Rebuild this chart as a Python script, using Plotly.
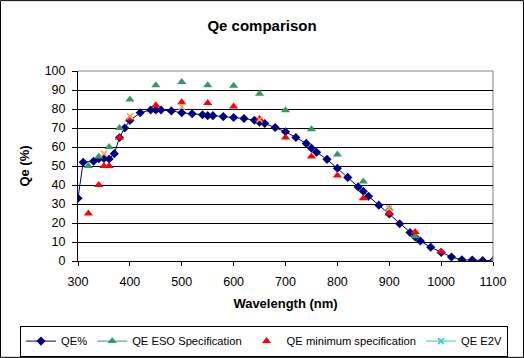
import plotly.graph_objects as go

# QE% measured curve
qe_wl = [300, 310, 330, 340, 350, 360, 370, 380, 390, 400, 420, 440, 450, 460, 480,
         500, 520, 540, 550, 560, 580, 600, 620, 640, 650, 660, 680, 700, 720, 740,
         750, 760, 780, 800, 820, 840, 850, 860, 880, 900, 920, 940, 950, 960, 980,
         1000, 1020, 1040, 1060, 1080, 1100]
qe_val = [33, 52, 52.5, 53.8, 54, 53.7, 56.5, 65, 70, 74, 78, 79.5, 79.5, 79.5, 79,
          78, 77.5, 77, 76.5, 76.5, 76, 75.5, 75, 74.1, 73, 72.4, 70.3, 68, 65, 61.9,
          59.4, 57.2, 53.5, 48.8, 44, 39, 36.7, 34.1, 29.4, 24.8, 19.6, 15, 12.6, 10.5, 7.2,
          4.5, 2.1, 0.6, 0.5, 0.3, 0.1]

# ESO specification
eso_wl = [320, 340, 360, 380, 400, 450, 500, 550, 600, 650, 700, 750, 800, 850, 900, 950, 1100]
eso_val = [50, 55, 60, 70, 85, 92.5, 94.2, 92.5, 92.2, 88, 79.4, 69.4, 56.1, 41.8, 27.5, 13, 0]

# QE minimum specification
min_wl = [320, 340, 350, 360, 380, 400, 450, 500, 550, 600, 650, 700, 750, 800, 850, 900, 950, 1000]
min_val = [25, 40, 50, 50, 65, 75, 82, 83.5, 83.2, 81.3, 74.8, 65, 55, 45, 33, 25, 15.2, 5]

# QE E2V
e2v_wl = [350, 400, 500, 650, 900]
e2v_val = [56.5, 76.2, 81.2, 74.5, 27.8]

y_ticks = list(range(0, 101, 10))
x_ticks = list(range(300, 1101, 100))

NAVY = "#000080"
GREEN = "#339966"
RED = "#FF0000"
CYAN = "#33CCCC"
FONT = "Liberation Sans, Arial, sans-serif"

fig = go.Figure()

fig.add_trace(go.Scatter(
    x=qe_wl, y=qe_val, name="QE%", mode="lines+markers",
    line=dict(color=NAVY, width=1),
    marker=dict(symbol="diamond", size=7, color=NAVY),
))
# ESO: markers in plot, legend shows line+marker
fig.add_trace(go.Scatter(
    x=eso_wl, y=eso_val, name="QE ESO Specification", mode="markers",
    marker=dict(symbol="triangle-up", size=8, color=GREEN), showlegend=False,
))
fig.add_trace(go.Scatter(
    x=[None], y=[None], name="QE ESO Specification", mode="lines+markers",
    line=dict(color=GREEN, width=1),
    marker=dict(symbol="triangle-up", size=8, color=GREEN),
))
fig.add_trace(go.Scatter(
    x=min_wl, y=min_val, name="QE minimum specification", mode="markers",
    marker=dict(symbol="triangle-up", size=8, color=RED),
))
fig.add_trace(go.Scatter(
    x=e2v_wl, y=e2v_val, name="QE E2V", mode="markers",
    marker=dict(symbol="x-thin-open", size=6, line=dict(color=CYAN, width=1.5)),
    showlegend=False,
))
fig.add_trace(go.Scatter(
    x=[None], y=[None], name="QE E2V", mode="lines+markers",
    line=dict(color=CYAN, width=1),
    marker=dict(symbol="x-thin-open", size=6, line=dict(color=CYAN, width=1.5)),
))

fig.update_layout(
    width=524, height=358,
    margin=dict(l=78, r=31, t=71, b=97, autoexpand=False),
    paper_bgcolor="white", plot_bgcolor="white",
    font=dict(family=FONT, size=12.5, color="black"),
    title=dict(text="<b>Qe comparison</b>", xref="container", x=0.5, xanchor="center",
               y=1 - 25.5 / 358, yanchor="middle", font=dict(size=15)),
    xaxis=dict(
        range=[300, 1100], tickvals=x_ticks, ticks="outside", ticklen=4,
        tickcolor="black", showline=True, linecolor="black", linewidth=1,
        showgrid=False, zeroline=False, ticklabelstandoff=5,
        title=dict(text="<b>Wavelength (nm)</b>", standoff=10, font=dict(size=13)),
    ),
    yaxis=dict(
        range=[0, 100], tickvals=y_ticks, ticks="outside", ticklen=5,
        tickcolor="black", showline=True, linecolor="black", linewidth=1,
        showgrid=True, gridcolor="black", gridwidth=1, zeroline=False,
        ticklabelstandoff=4,
        title=dict(text="<b>Qe (%)</b>", standoff=12, font=dict(size=13)),
    ),
    legend=dict(
        orientation="h", x=-58 / 415, xanchor="left", y=-0.34, yanchor="top",
        bordercolor="black", borderwidth=1, font=dict(size=11.2),
        itemwidth=30, tracegroupgap=0,
    ),
    showlegend=True,
)

# plot area border (gray top and right)
fig.add_shape(type="line", xref="paper", yref="paper", x0=0, x1=1, y0=1, y1=1,
              line=dict(color="#808080", width=1), layer="between")
fig.add_shape(type="line", xref="paper", yref="paper", x0=1, x1=1, y0=0, y1=1,
              line=dict(color="#808080", width=1), layer="between")
# outer chart border
fig.add_shape(type="rect", xref="paper", yref="paper",
              x0=-77.5 / 415, x1=1 + 30.5 / 415, y0=-96.5 / 190.3, y1=1 + 70.5 / 190.3,
              line=dict(color="black", width=1))

fig.write_html("out.html", config={"displayModeBar": False},
               post_script="document.body.style.margin='0px';")
